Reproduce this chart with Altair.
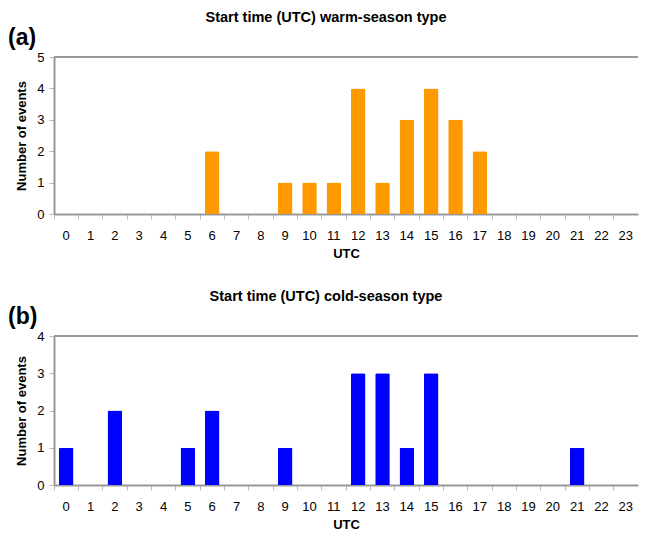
import altair as alt
import pandas as pd

hours = list(range(24))
warm_counts = [0, 0, 0, 0, 0, 0, 2, 0, 0, 1, 1, 1, 4, 1, 3, 4, 3, 2, 0, 0, 0, 0, 0, 0]
cold_counts = [1, 0, 2, 0, 0, 1, 2, 0, 0, 1, 0, 0, 3, 3, 1, 3, 0, 0, 0, 0, 0, 1, 0, 0]
titles = ["Start time (UTC) warm-season type", "Start time (UTC) cold-season type"]
labels = ["(a)", "(b)"]
colors = ["#FF9900", "#0000FF"]
ymax = [5, 4]

W = 584
FONT = "Liberation Sans"


def panel(counts, title, label, color, ym, h):
    df = pd.DataFrame({"UTC": [str(x) for x in hours], "n": counts})
    order = [str(x) for x in hours]
    x = alt.X("UTC:N", sort=order,
              scale=alt.Scale(paddingInner=0, paddingOuter=0),
              axis=alt.Axis(title="UTC", labelAngle=0, bandPosition=0,
                            titleFontWeight="bold", titleFontSize=13,
                            titlePadding=5, labelPadding=10))
    y = alt.Y("n:Q", scale=alt.Scale(domain=[0, ym], nice=False),
              axis=alt.Axis(title="Number of events", values=list(range(ym + 1)),
                            titleFontWeight="bold", titleFontSize=13,
                            titlePadding=8, labelPadding=5, format="d"))
    bars = alt.Chart(df).mark_bar(color=color, width=alt.RelativeBandSize(0.6),
                                  cornerRadiusTopLeft=1.5, cornerRadiusTopRight=1.5).encode(x=x, y=y)
    border = alt.Chart(df).mark_rule(color="#999999", strokeWidth=2).encode(
        x=alt.value(0), x2=alt.value(W), y=alt.value(0))
    ttl = alt.Chart(pd.DataFrame({"t": [title]})).mark_text(
        font=FONT, fontSize=14.5, fontWeight="bold", align="center", baseline="middle"
    ).encode(text="t:N", x=alt.value(272), y=alt.value(-39))
    lab = alt.Chart(pd.DataFrame({"t": [label]})).mark_text(
        font=FONT, fontSize=23, fontWeight="bold", align="left", baseline="middle"
    ).encode(text="t:N", x=alt.value(-46), y=alt.value(-19))
    return alt.layer(bars, border, ttl, lab).properties(width=W, height=h)


top = panel(warm_counts, titles[0], labels[0], colors[0], ymax[0], 157)
bottom = panel(cold_counts, titles[1], labels[1], colors[1], ymax[1], 149)

chart = alt.vconcat(top, bottom, spacing=29).properties(
    padding={"left": 0, "top": 2, "right": 0, "bottom": 0}
).configure_view(stroke=None).configure_axis(
    labelFont=FONT, titleFont=FONT, labelFontSize=13, labelColor="#000000",
    titleColor="#000000", domainColor="#999999", domainWidth=2,
    tickColor="#bbbbbb", tickSize=5, grid=False
)

chart.save("out.html", embed_options={"renderer": "svg", "actions": False})
